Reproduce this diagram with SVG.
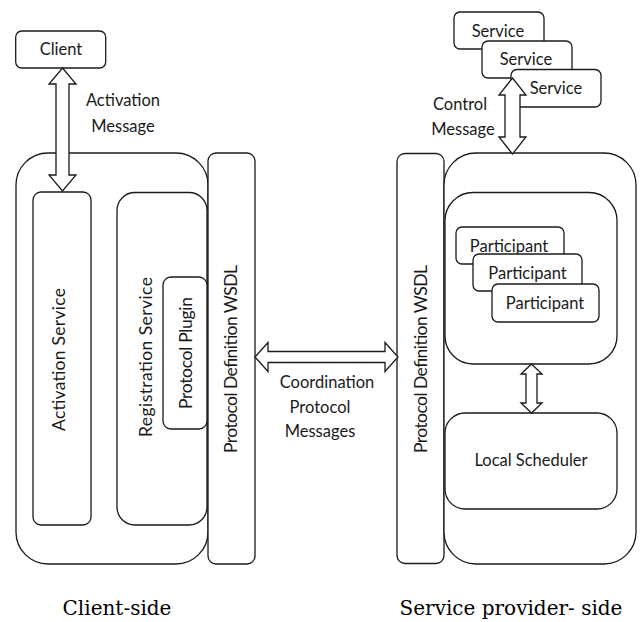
<svg xmlns="http://www.w3.org/2000/svg" width="642" height="622" viewBox="0 0 642 622">
<style>
.b{fill:#fff;stroke:#1a1a1a;stroke-width:1.3}
.t{font-family:Lato,"Liberation Sans",sans-serif;font-size:16.5px;fill:#1a1a1a;text-anchor:middle}
.v{font-family:Lato,"Liberation Sans",sans-serif;font-size:17.5px;fill:#1a1a1a;text-anchor:middle}
.cap{font-family:"DejaVu Serif",serif;font-size:20px;fill:#000;text-anchor:middle}
.a{fill:#fff;stroke:#1a1a1a;stroke-width:1.3;stroke-linejoin:miter}
</style>
<rect width="642" height="622" fill="#fff"/>

<g id="client">
<rect class="b" x="15.7" y="31" width="90" height="37" rx="6"/>
<text class="t" x="61" y="55">Client</text>
</g>

<g id="client-side">
<rect class="b" x="16" y="153" width="192" height="411" rx="32"/>
</g>
<g id="activation-service">
<rect class="b" x="33" y="192" width="58" height="333" rx="8"/>
<text class="v" transform="translate(65 359.5) rotate(-90)" textLength="143">Activation Service</text>
</g>
<g id="registration-service">
<rect class="b" x="117" y="192.5" width="90" height="332.5" rx="18"/>
<text class="v" transform="translate(152 357) rotate(-90)" textLength="160">Registration Service</text>
</g>
<g id="protocol-plugin">
<rect class="b" x="163" y="277" width="44" height="152" rx="8"/>
<text class="v" transform="translate(192 353) rotate(-90)" textLength="112">Protocol Plugin</text>
</g>
<g id="wsdl-client">
<rect class="b" x="208" y="153" width="47" height="411" rx="8"/>
<text class="v" transform="translate(237 359) rotate(-90)" textLength="188">Protocol Definition WSDL</text>
</g>

<g id="wsdl-provider">
<rect class="b" x="397" y="153.5" width="47" height="410" rx="8"/>
<text class="v" transform="translate(427 359) rotate(-90)" textLength="188">Protocol Definition WSDL</text>
</g>
<g id="provider-side">
<rect class="b" x="444" y="153" width="192" height="411" rx="32"/>
</g>
<g id="participants-container">
<rect class="b" x="445" y="192.5" width="172" height="171.5" rx="28"/>
</g>
<g id="participant-1">
<rect class="b" x="456" y="227" width="108" height="37" rx="6"/>
<text class="t" x="509" y="252">Participant</text>
</g>
<g id="participant-2">
<rect class="b" x="473" y="254" width="109" height="37" rx="6"/>
<text class="t" x="527.5" y="279">Participant</text>
</g>
<g id="participant-3">
<rect class="b" x="492" y="284" width="107" height="38" rx="6"/>
<text class="t" x="545" y="309">Participant</text>
</g>
<g id="local-scheduler">
<rect class="b" x="445" y="413" width="172" height="96" rx="20"/>
<text class="t" x="531" y="466">Local Scheduler</text>
</g>

<g id="service-1">
<rect class="b" x="454" y="12" width="90" height="37" rx="6"/>
<text class="t" x="498" y="37">Service</text>
</g>
<g id="service-2">
<rect class="b" x="482" y="41" width="90" height="37" rx="6"/>
<text class="t" x="526" y="65">Service</text>
</g>
<g id="service-3">
<rect class="b" x="511" y="69.5" width="90" height="37.5" rx="6"/>
<text class="t" x="556" y="94">Service</text>
</g>

<g id="connectors">
<polygon class="a" points="62.5,68 76,84 69,84 69,175 76,175 62.5,191 49,175 56,175 56,84 49,84"/>
<polygon class="a" points="512.5,78 526,95 520,95 520,137 526,137 512.5,154 499,137 505,137 505,95 499,95"/>
<polygon class="a" points="255,357 268,342.5 268,351.5 385,351.5 385,342.5 398,357 385,371.5 385,362.5 268,362.5 268,371.5"/>
<polygon class="a" points="531.5,364 542,374 537,374 537,403 542,403 531.5,413 521,403 526,403 526,374 521,374"/>
</g>

<g id="labels">
<text class="t" x="123" y="106">Activation</text>
<text class="t" x="123" y="132">Message</text>
<text class="t" x="460" y="110">Control</text>
<text class="t" x="463" y="135">Message</text>
<text class="t" x="327" y="388">Coordination</text>
<text class="t" x="320" y="413">Protocol</text>
<text class="t" x="320" y="437">Messages</text>
</g>

<g id="captions">
<text class="cap" x="117" y="615">Client-side</text>
<text class="cap" x="511" y="615">Service provider- side</text>
</g>
</svg>
